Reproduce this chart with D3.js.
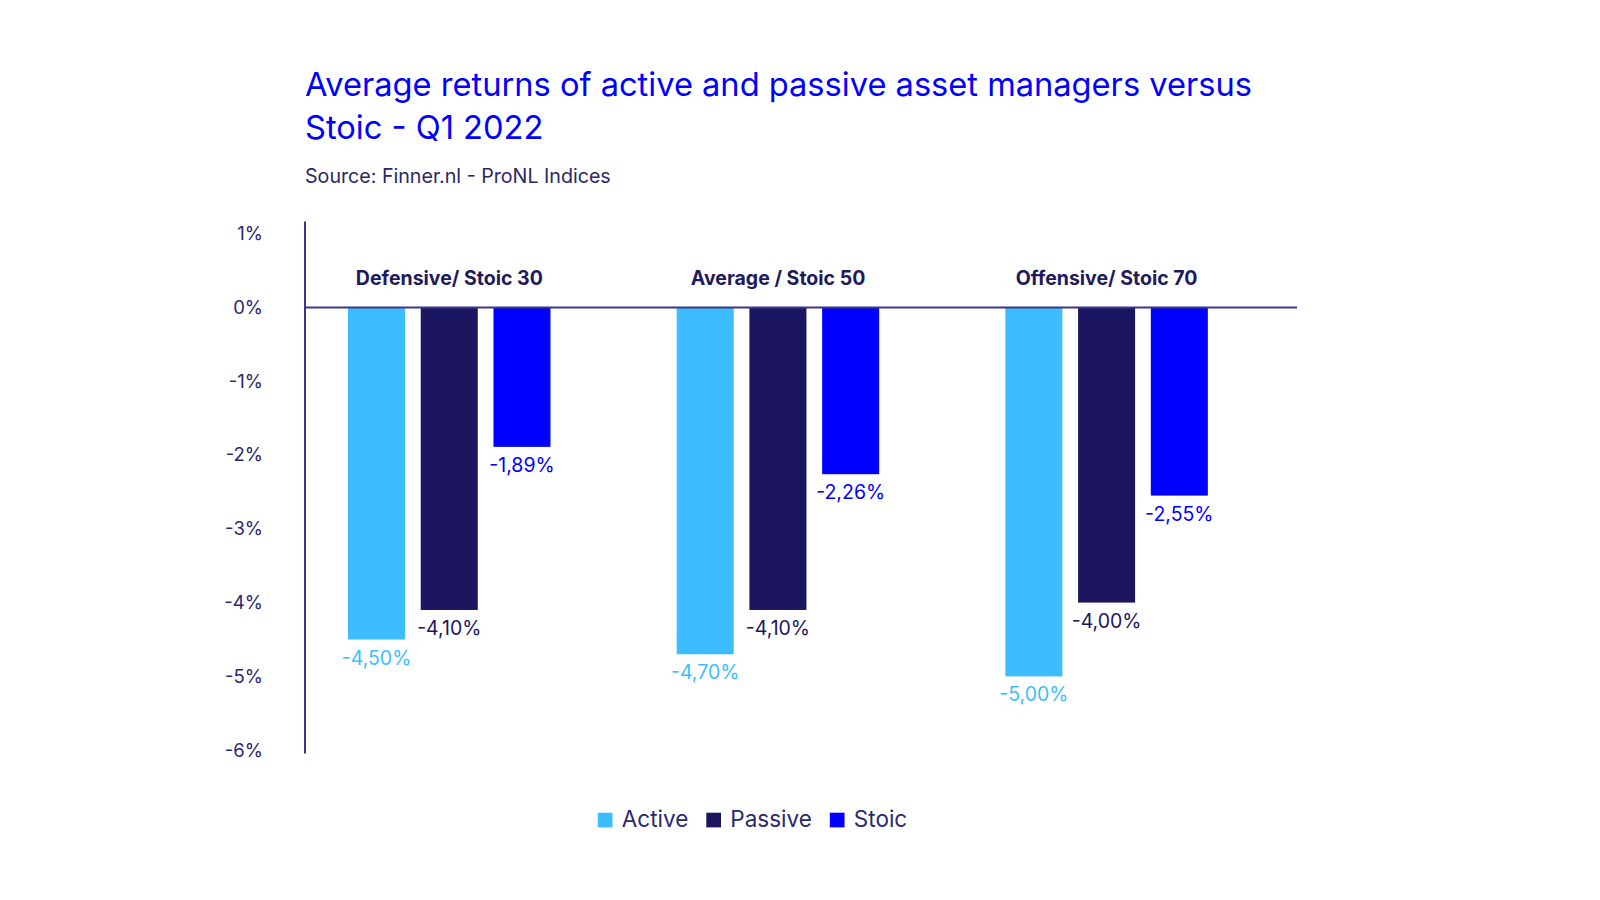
<!DOCTYPE html>
<html>
<head>
<meta charset="utf-8">
<script src="https://cdn.jsdelivr.net/npm/d3@7"></script>
<style>
  html, body { margin: 0; padding: 0; background: #fff; }
  svg { display: block; font-family: "Inter", "Noto Sans", sans-serif; }
</style>
</head>
<body>
<div class="chart"></div>
<script>
const groups = ["Defensive/ Stoic 30", "Average / Stoic 50", "Offensive/ Stoic 70"];
const seriesNames = ["Active", "Passive", "Stoic"];
const active = [-4.50, -4.70, -5.00];
const passive = [-4.10, -4.10, -4.00];
const stoic = [-1.89, -2.26, -2.55];
const yTicks = [1, 0, -1, -2, -3, -4, -5, -6];

const colors = { Active: "#3dbdff", Passive: "#1b165f", Stoic: "#0000ff" };
const navy = "#1e1a5c";
const axisColor = "#3b3787";

const W = 1600, H = 900;
const axisX = 305, plotRight = 1297;

const rows = groups.map((g, i) => ({
  group: g,
  values: [
    { key: "Active", value: active[i] },
    { key: "Passive", value: passive[i] },
    { key: "Stoic", value: stoic[i] }
  ]
}));

// shrink or grow a text's font so it spans the given width
const fitWidth = (sel, size, width, max) => {
  const len = sel.node().getComputedTextLength();
  sel.attr("font-size", Math.min(max, size * width / len));
};

const svg = d3
  .select(".chart")
  .append("svg")
  .attr("width", W)
  .attr("height", H);

// title
const title = svg
  .append("text")
  .attr("x", axisX)
  .attr("fill", "#0000ff")
  .attr("font-size", 33);
title.append("tspan").attr("x", axisX).attr("y", 96)
  .text("Average returns of active and passive asset managers versus");
title.append("tspan").attr("x", axisX).attr("y", 139)
  .text("Stoic - Q1 2022");

const line1 = title.select("tspan").node().getComputedTextLength();
title.attr("font-size", Math.min(36, 33 * 947 / line1));

const subtitle = svg
  .append("text")
  .attr("x", axisX)
  .attr("y", 183)
  .attr("fill", "#2b2866")
  .attr("font-size", 17.5)
  .text("Source: Finner.nl - ProNL Indices");
fitWidth(subtitle, 17.5, 306, 20);

const y = d3.scaleLinear().domain([-6, 1]).range([750.2, 233.6]);

const x0 = d3.scaleBand().domain(groups).range([285, 1271]);
const x1 = d3.scaleBand().domain(seriesNames).range([63, 265.5]).paddingInner(0.216);

// y axis labels
const yAxis = svg
  .append("g")
  .attr("transform", "translate(" + axisX + ",0)")
  .call(
    d3.axisLeft(y)
      .tickValues(yTicks)
      .tickFormat(d => d + "%")
      .tickSize(0)
      .tickPadding(42)
  );
yAxis.select(".domain").remove();
yAxis.selectAll("text")
  .attr("font-size", 18.5)
  .attr("fill", "#2b2870")
  .attr("font-family", "Inter, 'Noto Sans', sans-serif");

// bars
const gGroups = svg
  .selectAll("g.group")
  .data(rows)
  .enter()
  .append("g")
  .attr("class", "group")
  .attr("transform", d => "translate(" + x0(d.group) + ",0)");

gGroups
  .selectAll("rect")
  .data(d => d.values)
  .enter()
  .append("rect")
  .attr("x", d => x1(d.key))
  .attr("width", x1.bandwidth())
  .attr("y", d => y(Math.max(0, d.value)))
  .attr("height", d => Math.abs(y(d.value) - y(0)))
  .attr("fill", d => colors[d.key]);

gGroups
  .selectAll("text.value")
  .data(d => d.values)
  .enter()
  .append("text")
  .attr("class", "value")
  .attr("x", d => x1(d.key) + x1.bandwidth() / 2)
  .attr("y", d => y(d.value) + 25)
  .attr("text-anchor", "middle")
  .attr("font-size", 19.5)
  .attr("fill", d => colors[d.key])
  .text(d => d.value.toFixed(2).replace(".", ",") + "%");

// category labels
const cats = svg
  .selectAll("text.cat")
  .data(groups)
  .enter()
  .append("text")
  .attr("class", "cat")
  .attr("x", d => x0(d) + x0.bandwidth() / 2)
  .attr("y", 285)
  .attr("text-anchor", "middle")
  .attr("font-size", 18.5)
  .attr("font-weight", 700)
  .attr("fill", navy)
  .text(d => d);
const catLen = cats.node().getComputedTextLength();
cats.attr("font-size", Math.min(20, 18.5 * 187 / catLen));

// axis lines
svg.append("line")
  .attr("x1", axisX).attr("x2", axisX)
  .attr("y1", 221.5).attr("y2", 753.5)
  .attr("stroke", axisColor).attr("stroke-width", 2);
svg.append("line")
  .attr("x1", axisX).attr("x2", plotRight)
  .attr("y1", y(0)).attr("y2", y(0))
  .attr("stroke", axisColor).attr("stroke-width", 2);

// legend
const legend = svg.append("g").attr("class", "legend");
let lx = 0;
seriesNames.forEach(name => {
  const item = legend.append("g").attr("transform", "translate(" + lx + ",0)");
  item.append("rect")
    .attr("x", 0).attr("y", 812.7)
    .attr("width", 14.7).attr("height", 14.7)
    .attr("fill", colors[name]);
  const t = item.append("text")
    .attr("x", 24).attr("y", 827.3)
    .attr("font-size", 22.5)
    .attr("fill", "#2b2870")
    .text(name);
  lx += 24 + t.node().getComputedTextLength() + 18;
});
const legendW = lx - 18;
legend.attr("transform", "translate(" + (752.5 - legendW / 2) + ",0)");
</script>
</body>
</html>
